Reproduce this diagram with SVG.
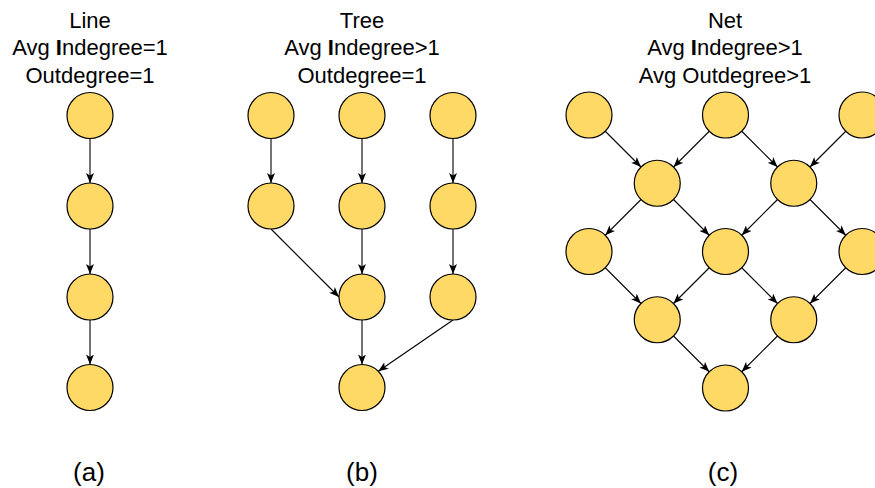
<svg xmlns="http://www.w3.org/2000/svg" width="875" height="488" viewBox="0 0 875 488">
<defs>
<style>
.n{fill:#FFD966;stroke:#000;stroke-width:1.2}
.e{stroke:#000;stroke-width:1.1;fill:none;marker-end:url(#ah)}
.t{font-family:"Liberation Sans",Arial,sans-serif;font-size:22px;fill:#000;text-anchor:middle}
.l{font-size:26px}
.b{font-weight:bold}
</style>
<marker id="ah" viewBox="0 0 10 8" refX="10" refY="4" markerWidth="10" markerHeight="8" markerUnits="userSpaceOnUse" orient="auto">
<path d="M0,0 L10,4 L0,8 L2.5,4 Z" fill="#000"/>
</marker>
</defs>
<rect width="875" height="488" fill="#fff"/>
<g id="titles">
<text class="t" x="90" y="27.5">Line</text>
<text class="t" x="90" y="55">Avg <tspan class="b">I</tspan>ndegree=1</text>
<text class="t" x="90" y="82.5">Outdegree=1</text>
<text class="t" x="362" y="27.5">Tree</text>
<text class="t" x="362" y="55">Avg <tspan class="b">I</tspan>ndegree&gt;1</text>
<text class="t" x="362" y="82.5">Outdegree=1</text>
<text class="t" x="725" y="27.5">Net</text>
<text class="t" x="725" y="55">Avg <tspan class="b">I</tspan>ndegree&gt;1</text>
<text class="t" x="725" y="82.5">Avg Outdegree&gt;1</text>
<text class="t l" x="89" y="481">(a)</text>
<text class="t l" x="362" y="481">(b)</text>
<text class="t l" x="723" y="481">(c)</text>
</g>
<g id="connectors">
<line class="e" x1="90" y1="138.5" x2="90" y2="183"/>
<line class="e" x1="90" y1="229" x2="90" y2="274"/>
<line class="e" x1="90" y1="320" x2="90" y2="364.5"/>
<line class="e" x1="271" y1="138.5" x2="271" y2="183"/>
<line class="e" x1="362" y1="138.5" x2="362" y2="183"/>
<line class="e" x1="453" y1="138.5" x2="453" y2="183"/>
<line class="e" x1="271" y1="229" x2="339" y2="297"/>
<line class="e" x1="362" y1="229" x2="362" y2="274"/>
<line class="e" x1="453" y1="229" x2="453" y2="274"/>
<line class="e" x1="362" y1="320" x2="362" y2="364.5"/>
<line class="e" x1="453" y1="320" x2="378.3" y2="371.2"/>
<line class="e" x1="605.26" y1="131.26" x2="640.99" y2="166.99"/>
<line class="e" x1="709.24" y1="131.26" x2="673.51" y2="166.99"/>
<line class="e" x1="741.76" y1="131.26" x2="777.49" y2="166.99"/>
<line class="e" x1="845.74" y1="131.26" x2="810.01" y2="166.99"/>
<line class="e" x1="640.99" y1="199.51" x2="605.26" y2="235.24"/>
<line class="e" x1="673.51" y1="199.51" x2="709.24" y2="235.24"/>
<line class="e" x1="777.49" y1="199.51" x2="741.76" y2="235.24"/>
<line class="e" x1="810.01" y1="199.51" x2="845.74" y2="235.24"/>
<line class="e" x1="605.26" y1="267.76" x2="640.99" y2="303.49"/>
<line class="e" x1="709.24" y1="267.76" x2="673.51" y2="303.49"/>
<line class="e" x1="741.76" y1="267.76" x2="777.49" y2="303.49"/>
<line class="e" x1="845.74" y1="267.76" x2="810.01" y2="303.49"/>
<line class="e" x1="673.51" y1="336.01" x2="709.24" y2="371.74"/>
<line class="e" x1="777.49" y1="336.01" x2="741.76" y2="371.74"/>
</g>
<g id="line-1"><circle class="n" cx="90" cy="115.5" r="23"/></g>
<g id="line-2"><circle class="n" cx="90" cy="206" r="23"/></g>
<g id="line-3"><circle class="n" cx="90" cy="297" r="23"/></g>
<g id="line-4"><circle class="n" cx="90" cy="387.5" r="23"/></g>
<g id="tree-1"><circle class="n" cx="271" cy="115.5" r="23"/></g>
<g id="tree-2"><circle class="n" cx="362" cy="115.5" r="23"/></g>
<g id="tree-3"><circle class="n" cx="453" cy="115.5" r="23"/></g>
<g id="tree-4"><circle class="n" cx="271" cy="206" r="23"/></g>
<g id="tree-5"><circle class="n" cx="362" cy="206" r="23"/></g>
<g id="tree-6"><circle class="n" cx="453" cy="206" r="23"/></g>
<g id="tree-7"><circle class="n" cx="362" cy="297" r="23"/></g>
<g id="tree-8"><circle class="n" cx="453" cy="297" r="23"/></g>
<g id="tree-9"><circle class="n" cx="362" cy="387.5" r="23"/></g>
<g id="net-a1"><circle class="n" cx="589" cy="115" r="23"/></g>
<g id="net-a2"><circle class="n" cx="725.5" cy="115" r="23"/></g>
<g id="net-a3"><circle class="n" cx="862" cy="115" r="23"/></g>
<g id="net-b1"><circle class="n" cx="657.25" cy="183.25" r="23"/></g>
<g id="net-b2"><circle class="n" cx="793.75" cy="183.25" r="23"/></g>
<g id="net-c1"><circle class="n" cx="589" cy="251.5" r="23"/></g>
<g id="net-c2"><circle class="n" cx="725.5" cy="251.5" r="23"/></g>
<g id="net-c3"><circle class="n" cx="862" cy="251.5" r="23"/></g>
<g id="net-d1"><circle class="n" cx="657.25" cy="319.75" r="23"/></g>
<g id="net-d2"><circle class="n" cx="793.75" cy="319.75" r="23"/></g>
<g id="net-e1"><circle class="n" cx="725.5" cy="388" r="23"/></g>
</svg>
